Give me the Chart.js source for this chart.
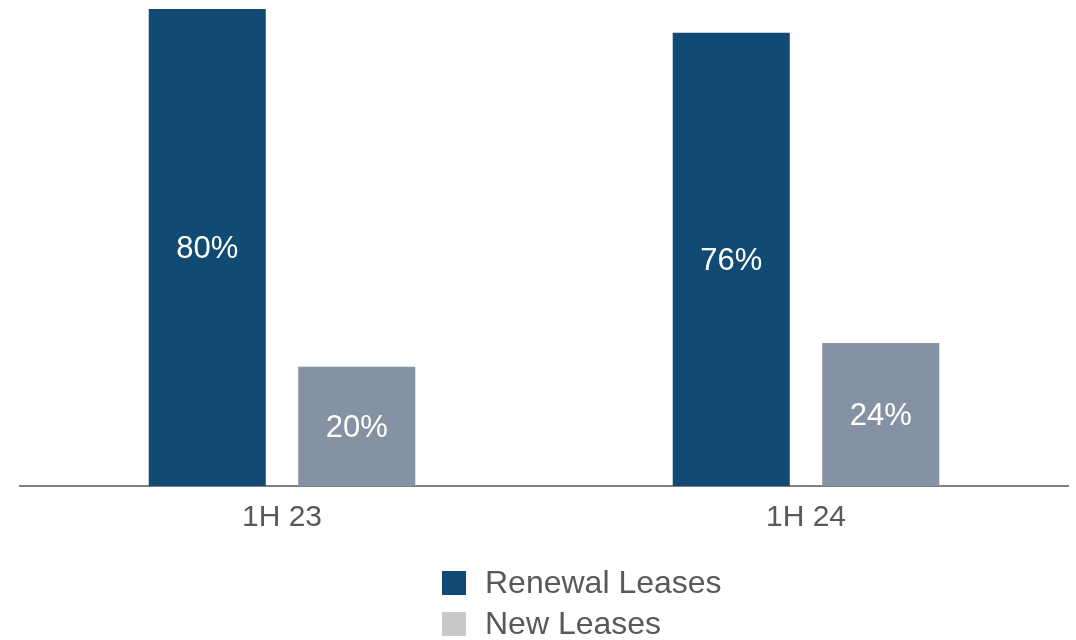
<!DOCTYPE html>
<html>
<head>
<meta charset="utf-8">
<script src="https://cdn.jsdelivr.net/npm/chart.js@4/dist/chart.umd.min.js"></script>
<style>
  html, body { margin: 0; padding: 0; background: #fff; }
  #wrap { width: 1076px; height: 640px; position: relative; }
</style>
</head>
<body>
<div id="wrap"><canvas id="myChart" width="1076" height="640"></canvas></div>
<script>
// данные графика
const categories = ['1H 23', '1H 24']
const seriesNames = ['Renewal Leases', 'New Leases']
const renewalValues = [80, 76]
const newValues = [20, 24]

const barColors = ['#114b74', '#8592a3']
const legendColors = ['#114b74', '#c8c8c8']
const textColor = '#595959'
const fontFamily = "'Liberation Sans', Arial, sans-serif"

const canvas = document.getElementById('myChart')
const ctx = canvas.getContext('2d')

// подписи значений внутри столбцов
const valueLabels = {
    id: 'valueLabels',
    afterDatasetsDraw(chart) {
        const c = chart.ctx
        c.save()
        c.font = '31px ' + fontFamily
        c.fillStyle = '#ffffff'
        c.textAlign = 'center'
        c.textBaseline = 'middle'
        chart.data.datasets.forEach((ds, i) => {
            chart.getDatasetMeta(i).data.forEach((bar, j) => {
                const mid = (bar.y + bar.base) / 2
                c.fillText(ds.data[j] + '%', bar.x, mid + 2)
            })
        })
        c.restore()
    }
}

// легенда в две строки под осью
const stackedLegend = {
    id: 'stackedLegend',
    afterDraw(chart) {
        const c = chart.ctx
        c.save()
        c.font = '32px ' + fontFamily
        c.textBaseline = 'middle'
        c.textAlign = 'left'
        seriesNames.forEach((name, i) => {
            const y = 583 + i * 41
            c.fillStyle = legendColors[i]
            c.fillRect(442, y - 12, 24, 24)
            c.fillStyle = textColor
            c.fillText(name, 485, y + 1)
        })
        c.restore()
    }
}

new Chart(ctx, {
    type: 'bar',
    data: {
        labels: categories,
        datasets: [
            { label: seriesNames[0], data: renewalValues, backgroundColor: barColors[0] },
            { label: seriesNames[1], data: newValues, backgroundColor: barColors[1] }
        ]
    },
    options: {
        responsive: false,
        animation: false,
        categoryPercentage: 0.5706,
        barPercentage: 0.783,
        layout: { padding: { left: 20, right: 8, top: 9, bottom: 0 } },
        plugins: {
            legend: { display: false },
            tooltip: { enabled: false }
        },
        scales: {
            x: {
                grid: { display: false, drawTicks: false },
                border: { display: true, color: '#7f7f7f', width: 2 },
                ticks: {
                    color: textColor,
                    font: { family: fontFamily, size: 30 },
                    padding: 14
                },
                afterFit(scale) { scale.height = 154 }
            },
            y: {
                display: false,
                min: 0,
                max: 80
            }
        }
    },
    plugins: [valueLabels, stackedLegend]
})
</script>
</body>
</html>
